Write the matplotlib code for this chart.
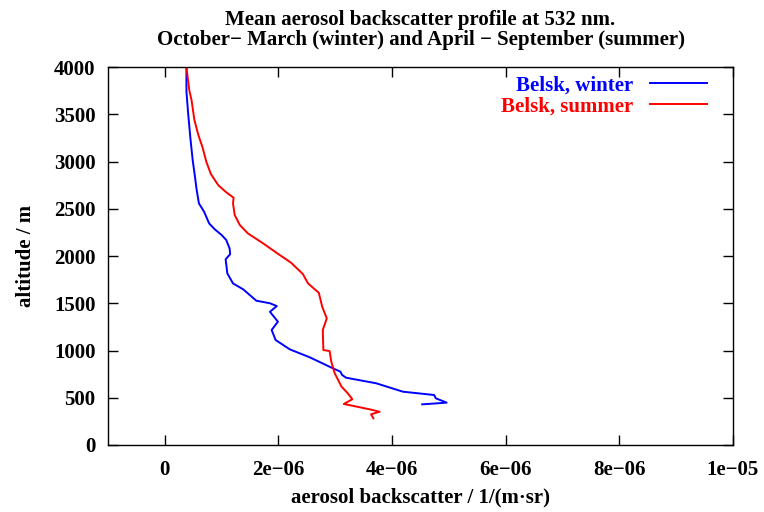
import matplotlib
matplotlib.use("Agg")
import matplotlib.pyplot as plt
from matplotlib.ticker import FuncFormatter

# mean backscatter profiles, units of 1e-6 1/(m sr), altitude in m
winter_beta = [0.38, 0.38, 0.41, 0.45, 0.49, 0.53, 0.56, 0.60, 0.69, 0.78, 0.88,
               1.00, 1.08, 1.14, 1.15, 1.07, 1.10, 1.20, 1.38, 1.61, 1.85, 1.97,
               1.85, 1.99, 1.88, 1.95, 2.20, 2.55, 2.90, 3.09, 3.12, 3.19, 3.72,
               4.19, 4.74, 4.77, 4.96, 4.53]
winter_alt = [4000, 3740, 3510, 3245, 3015, 2840, 2700, 2557, 2470, 2345, 2282,
              2222, 2170, 2080, 2020, 1965, 1816, 1710, 1647, 1527, 1500, 1470,
              1410, 1305, 1217, 1111, 1012, 928, 828, 776, 741, 712, 653,
              564, 529, 494, 448, 430]

summer_beta = [0.38, 0.43, 0.47, 0.52, 0.59, 0.66, 0.73, 0.81, 0.94, 1.07, 1.21,
               1.20, 1.23, 1.32, 1.46, 1.73, 2.00, 2.22, 2.43, 2.52, 2.71, 2.77,
               2.85, 2.78, 2.79, 2.90, 2.93, 2.99, 3.11, 3.22, 3.30, 3.15, 3.32,
               3.60, 3.78, 3.63, 3.67]
summer_alt = [4000, 3755, 3650, 3440, 3280, 3157, 2998, 2868, 2750, 2680, 2617,
              2557, 2433, 2328, 2240, 2134, 2020, 1930, 1809, 1710, 1611, 1463,
              1340, 1217, 1005, 994, 881, 759, 617, 547, 484, 434, 413,
              378, 352, 325, 282]

x_ticks = [0, 2e-6, 4e-6, 6e-6, 8e-6, 1e-5]
y_ticks = list(range(0, 4001, 500))

plt.rcParams["font.family"] = ["Liberation Serif", "DejaVu Serif"]
plt.rcParams["font.weight"] = "bold"

FS = 15

fig = plt.figure(figsize=(7.64, 5.12), dpi=100)
ax = fig.add_axes([0.1414, 0.1309, 0.818, 0.7381])

ax.plot([b * 1e-6 for b in winter_beta], winter_alt, color="#0000ff", lw=1.4,
        label="Belsk, winter")
ax.plot([b * 1e-6 for b in summer_beta], summer_alt, color="#ff0000", lw=1.4,
        label="Belsk, summer")

ax.set_xlim(-1e-6, 1e-5)
ax.set_ylim(0, 4000)
ax.set_xticks(x_ticks)
ax.set_yticks(y_ticks)


def sci_fmt(v, pos):
    if v == 0:
        return "0"
    m, e = f"{v:.0e}".split("e")
    return f"{m}e\u2212{abs(int(e)):02d}"


ax.xaxis.set_major_formatter(FuncFormatter(sci_fmt))
ax.tick_params(direction="in", length=7, width=1, top=True, right=True,
               labelsize=FS, colors="black")
ax.tick_params(axis="x", pad=11)
ax.tick_params(axis="y", pad=9)
for lbl in ax.get_xticklabels() + ax.get_yticklabels():
    lbl.set_fontweight("bold")
for s in ax.spines.values():
    s.set_linewidth(1.0)

ax.set_xlabel("aerosol backscatter / 1/(m\u00b7sr)", fontsize=FS,
              fontweight="bold", labelpad=5)
ax.set_ylabel("altitude / m", fontsize=FS, fontweight="bold", labelpad=13)
ax.set_title("Mean aerosol backscatter profile at 532 nm.\n"
             "October\u2212 March (winter) and April \u2212 September (summer)",
             fontsize=FS, fontweight="bold", pad=16, linespacing=1.0)

# key placed inside the top-right corner, text right-aligned before the sample line
leg = ax.legend(loc="upper right", bbox_to_anchor=(0.9648, 0.989),
                frameon=False, fontsize=FS, markerfirst=False,
                handlelength=2.74, handletextpad=0.77,
                labelspacing=0.05, borderaxespad=0.0, borderpad=0.2)
for txt, ln in zip(leg.get_texts(), leg.get_lines()):
    txt.set_color(ln.get_color())
    txt.set_fontweight("bold")
    txt.set_ha("right")

fig.savefig("out.png", dpi=100)
